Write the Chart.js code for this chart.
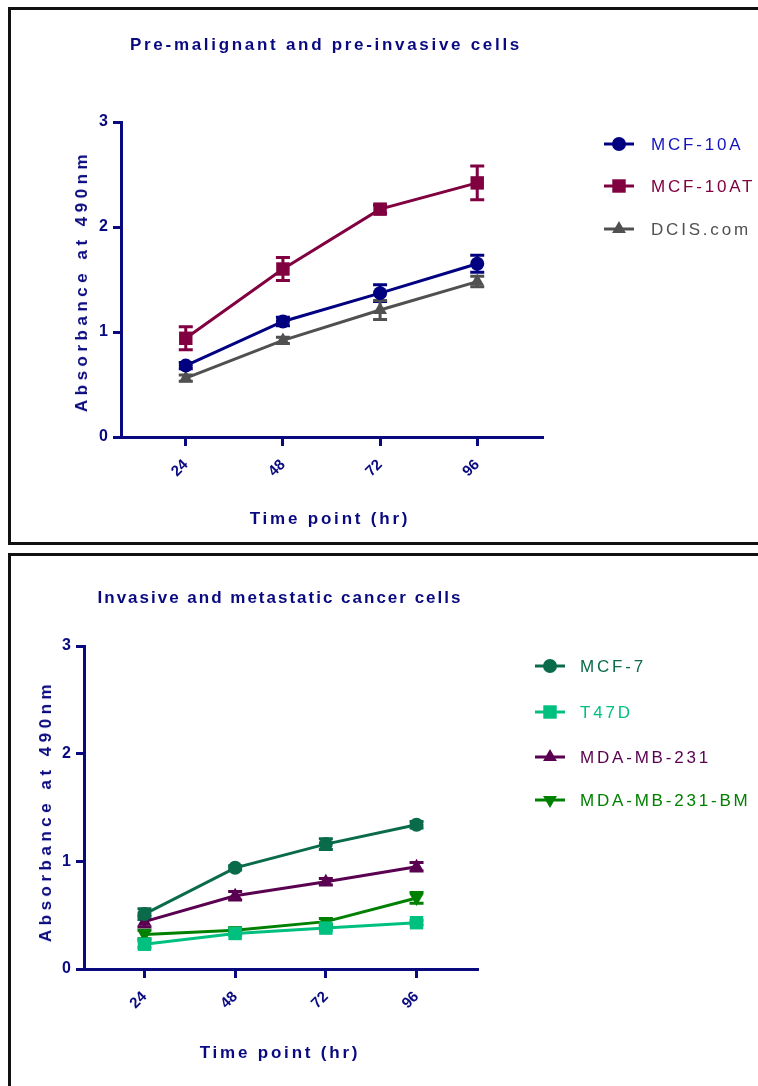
<!DOCTYPE html>
<html>
<head>
<meta charset="utf-8">
<script src="https://cdn.jsdelivr.net/npm/chart.js@4.4.1/dist/chart.umd.min.js"></script>
<style>
  body { margin: 0; background: #fff; width: 758px; height: 1086px; overflow: hidden; position: relative; }
  .panel { position: absolute; left: 8px; width: 800px; border: 3px solid #111; box-sizing: border-box; }
  canvas { position: absolute; left: 0; }
  .txt { position: absolute; white-space: nowrap; font-family: "Liberation Sans", Arial, sans-serif; color: #0a0a80; }
  .title { font-weight: bold; font-size: 17px; letter-spacing: 2.7px; transform: translate(-50%, -50%); }
  .axt { font-weight: bold; font-size: 17px; letter-spacing: 2.8px; transform: translate(-50%, -50%); }
  .yt { letter-spacing: 4.5px; transform: translate(-50%, -50%) rotate(-90deg); }
  .leg { font-size: 17px; letter-spacing: 2.8px; transform: translateY(-50%); }
</style>
</head>
<body>
<div class="panel" style="top:7px;height:538px"></div>
<div class="panel" style="top:553px;height:600px"></div>

<canvas id="chart1" width="758" height="548" style="top:0"></canvas>
<canvas id="chart2" width="758" height="538" style="top:548px"></canvas>

<div class="txt title" style="left:326px;top:45px">Pre-malignant and pre-invasive cells</div>
<div class="txt axt" style="left:330px;top:519px">Time point (hr)</div>
<div class="txt axt yt" style="left:82px;top:281px">Absorbance at 490nm</div>

<div class="txt title" style="left:280px;top:598px;letter-spacing:2px">Invasive and metastatic cancer cells</div>
<div class="txt axt" style="left:280px;top:1053px">Time point (hr)</div>
<div class="txt axt yt" style="left:46px;top:811px">Absorbance at 490nm</div>

<div id="legend1"></div>
<div id="legend2"></div>

<script>
// time points (hr) and y ticks
const hours = [24, 48, 72, 96];
const yTicks = [0, 1, 2, 3];

// top panel: pre-malignant / pre-invasive
const mcf10a = [0.68, 1.10, 1.37, 1.65];
const mcf10aErr = [0.03, 0.04, 0.08, 0.08];
const mcf10at = [0.94, 1.60, 2.17, 2.42];
const mcf10atErr = [0.11, 0.11, 0.04, 0.16];
const dcis = [0.56, 0.92, 1.21, 1.48];
const dcisErr = [0.03, 0.03, 0.09, 0.05];

// bottom panel: invasive / metastatic
const mcf7 = [0.51, 0.94, 1.16, 1.34];
const mcf7Err = [0.05, 0.02, 0.05, 0.03];
const t47d = [0.23, 0.33, 0.38, 0.43];
const t47dErr = [0.03, 0.02, 0.02, 0.02];
const mda231 = [0.44, 0.68, 0.81, 0.95];
const mda231Err = [0.05, 0.04, 0.03, 0.04];
const mda231bm = [0.32, 0.36, 0.44, 0.66];
const mda231bmErr = [0.04, 0.02, 0.03, 0.05];

const navy = '#0a0a80';
const fontFamily = '"Liberation Sans", Arial, sans-serif';

function series(label, values, errors, color, style, radius, rotation, textColor) {
    return {
        label: label,
        data: hours.map((h, i) => ({x: h, y: values[i]})),
        errors: errors,
        textColor: textColor || color,
        borderColor: color,
        backgroundColor: color,
        borderWidth: 3,
        pointStyle: style,
        pointRadius: radius,
        pointRotation: rotation || 0,
        pointBorderWidth: 0,
        tension: 0
    };
}

// error bars with caps
const errorBars = {
    id: 'errorBars',
    beforeDatasetsDraw(chart) {
        const ctx = chart.ctx;
        const yScale = chart.scales.y;
        chart.data.datasets.forEach((ds, di) => {
            const meta = chart.getDatasetMeta(di);
            ctx.save();
            ctx.strokeStyle = ds.borderColor;
            ctx.lineWidth = 3;
            meta.data.forEach((pt, i) => {
                const v = ds.data[i].y;
                const e = ds.errors[i];
                const top = yScale.getPixelForValue(v + e);
                const bot = yScale.getPixelForValue(v - e);
                ctx.beginPath();
                ctx.moveTo(pt.x, top);
                ctx.lineTo(pt.x, bot);
                ctx.moveTo(pt.x - 7, top);
                ctx.lineTo(pt.x + 7, top);
                ctx.moveTo(pt.x - 7, bot);
                ctx.lineTo(pt.x + 7, bot);
                ctx.stroke();
            });
            ctx.restore();
        });
    }
};

// line + marker symbols of the legend
const legendMarks = {
    id: 'legendMarks',
    afterDraw(chart, args, opts) {
        const ctx = chart.ctx;
        chart.data.datasets.forEach((ds, i) => {
            const y = opts.ys[i];
            ctx.save();
            ctx.strokeStyle = ds.borderColor;
            ctx.fillStyle = ds.backgroundColor;
            ctx.lineWidth = 3;
            ctx.beginPath();
            ctx.moveTo(opts.x - 15, y);
            ctx.lineTo(opts.x + 15, y);
            ctx.stroke();
            Chart.helpers.drawPoint(ctx, {
                pointStyle: ds.pointStyle,
                rotation: ds.pointRotation,
                radius: ds.pointRadius,
                borderWidth: 0
            }, opts.x, y);
            ctx.restore();
        });
    }
};

function makeChart(id, datasets, pad, legend) {
    return new Chart(document.getElementById(id), {
        type: 'line',
        data: {datasets: datasets},
        options: {
            responsive: false,
            animation: false,
            layout: {padding: pad},
            plugins: {
                legend: {display: false},
                title: {display: false},
                tooltip: {enabled: false},
                legendMarks: legend
            },
            scales: {
                x: {
                    type: 'linear',
                    min: 8,
                    max: 112,
                    afterBuildTicks: s => { s.ticks = hours.map(v => ({value: v})); },
                    afterFit: s => { s.height = 60; },
                    grid: {drawOnChartArea: false, tickLength: 9, color: navy, lineWidth: 3},
                    border: {color: navy, width: 3},
                    ticks: {
                        color: navy,
                        minRotation: 45,
                        maxRotation: 45,
                        padding: 10,
                        font: {family: fontFamily, weight: 'bold', size: 15}
                    }
                },
                y: {
                    min: 0,
                    max: 3,
                    afterBuildTicks: s => { s.ticks = yTicks.map(v => ({value: v})); },
                    afterFit: s => { s.width = 40; },
                    grid: {drawOnChartArea: false, tickLength: 8, color: navy, lineWidth: 3},
                    border: {color: navy, width: 3},
                    ticks: {
                        color: navy,
                        padding: 5,
                        font: {family: fontFamily, weight: 'bold', size: 16}
                    }
                }
            }
        },
        plugins: [errorBars, legendMarks]
    });
}

const topSets = [
    series('MCF-10A', mcf10a, mcf10aErr, '#000080', 'circle', 7, 0, '#1414c0'),
    series('MCF-10AT', mcf10at, mcf10atErr, '#800040', 'rect', 9.5),
    series('DCIS.com', dcis, dcisErr, '#505050', 'triangle', 8)
];
const bottomSets = [
    series('MCF-7', mcf7, mcf7Err, '#0a6b4a', 'circle', 7),
    series('T47D', t47d, t47dErr, '#00c080', 'rect', 9.5),
    series('MDA-MB-231', mda231, mda231Err, '#5a0050', 'triangle', 8),
    series('MDA-MB-231-BM', mda231bm, mda231bmErr, '#008000', 'triangle', 8, 180)
];

const legend1 = {x: 619, ys: [144, 186, 229]};
const legend2 = {x: 550, ys: [118, 164, 209, 252]};

makeChart('chart1', topSets, {left: 81, right: 216, top: 122, bottom: 51}, legend1);
makeChart('chart2', bottomSets, {left: 44, right: 281, top: 98, bottom: 57}, legend2);

// legend labels as page text
function legendText(holderId, datasets, left, ys, offsetY) {
    const holder = document.getElementById(holderId);
    datasets.forEach((ds, i) => {
        const d = document.createElement('div');
        d.className = 'txt leg';
        d.style.left = left + 'px';
        d.style.top = (ys[i] + offsetY) + 'px';
        d.style.color = ds.textColor;
        d.textContent = ds.label;
        holder.appendChild(d);
    });
}
legendText('legend1', topSets, 651, legend1.ys, 1);
legendText('legend2', bottomSets, 580, legend2.ys, 548 + 1);
</script>
</body>
</html>
